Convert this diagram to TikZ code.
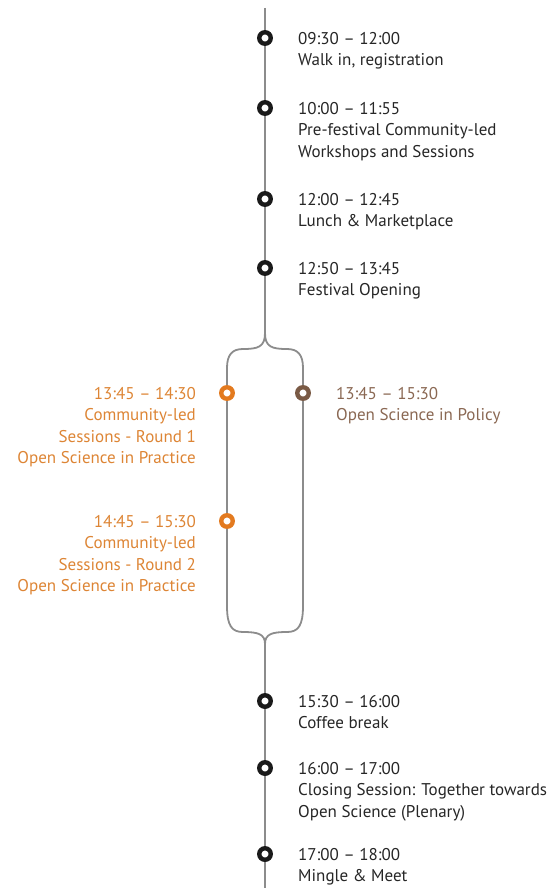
\documentclass[tikz,border=0pt]{standalone}
\usepackage{fontspec}
\setmainfont{PT Sans}
\definecolor{lineGray}{HTML}{8C8C8C}
\definecolor{dotBlack}{HTML}{1A1A1A}
\definecolor{txtBlack}{HTML}{262626}
\definecolor{sessOrange}{HTML}{E37A1F}
\definecolor{txtOrange}{HTML}{DD8535}
\definecolor{policyBrown}{HTML}{7A5A45}
\definecolor{txtBrown}{HTML}{8A6853}
\tikzset{
  link/.style={draw=lineGray, line width=1.8pt},
  dot/.style={circle, draw=dotBlack, fill=white, line width=4.4pt, minimum size=11.5pt,
    inner sep=0pt, outer sep=2.2pt},
  dotOrange/.style={dot, draw=sessOrange},
  dotBrown/.style={dot, draw=policyBrown},
  lbl/.style={anchor=north west, align=left, inner sep=0pt, text=txtBlack,
    font=\fontsize{17}{21.5}\selectfont},
  lblLeft/.style={lbl, anchor=north east, align=right, text=txtOrange},
  lblRight/.style={lbl, text=txtBrown}
}
\begin{document}
\begin{tikzpicture}[x=1pt, y=-1pt]
  \useasboundingbox (0,0) rectangle (558,888);

  % Morning
  \coordinate (top) at (265,8);
  \node[dot] (t1) at (265,38) {};
  \node[dot] (t2) at (265,108) {};
  \node[dot] (t3) at (265,199) {};
  \node[dot] (t4) at (265,268) {};
  \coordinate (fork) at (265,333);

  \node[lbl] (l1) at (298,32) {09:30 -- 12:00\\Walk in, registration};
  \node[lbl] (l2) at (298,102) {10:00 -- 11:55\\Pre-festival Community-led\\Workshops and Sessions};
  \node[lbl] (l3) at (298,193) {12:00 -- 12:45\\Lunch \& Marketplace};
  \node[lbl] (l4) at (298,262) {12:50 -- 13:45\\Festival Opening};

  % Parallel sessions
  \node[dotOrange] (o1) at (227,393) {};
  \node[dotOrange] (o2) at (227,521) {};
  \node[dotBrown] (p1) at (303,393) {};
  \coordinate (join) at (265,644);

  \node[lblLeft] (lo1) at (196,387) {13:45 -- 14:30\\Community-led\\Sessions - Round 1\\Open Science in Practice};
  \node[lblLeft] (lo2) at (196,515) {14:45 -- 15:30\\Community-led\\Sessions - Round 2\\Open Science in Practice};
  \node[lblRight] (lp1) at (336,387) {13:45 -- 15:30\\Open Science in Policy};

  % Afternoon
  \node[dot] (t5) at (265,701) {};
  \node[dot] (t6) at (265,768) {};
  \node[dot] (t7) at (265,854) {};
  \coordinate (bottom) at (265,888);

  \node[lbl] (l5) at (298,695) {15:30 -- 16:00\\Coffee break};
  \node[lbl] (l6) at (298,762) {16:00 -- 17:00\\Closing Session: Together towards\\Open Science (Plenary)};
  \node[lbl] (l7) at (298,848) {17:00 -- 18:00\\Mingle \& Meet};

  % Timeline
  \draw[link] (top) -- (t1) -- (t2) -- (t3) -- (t4) -- (fork);
  \draw[link] (fork) .. controls (265,347) and (258,349) .. (243,349)
    .. controls (232,349) and (227,355) .. (227,368) -- (o1);
  \draw[link] (fork) .. controls (265,347) and (272,349) .. (287,349)
    .. controls (298,349) and (303,355) .. (303,368) -- (p1);
  \draw[link] (o1) -- (o2);
  \draw[link] (o2) -- (227,606) .. controls (227,626) and (232,632) .. (243,632)
    .. controls (258,632) and (265,634) .. (join);
  \draw[link] (p1) -- (303,606) .. controls (303,626) and (298,632) .. (287,632)
    .. controls (272,632) and (265,634) .. (join);
  \draw[link] (join) -- (t5) -- (t6) -- (t7) -- (bottom);
\end{tikzpicture}
\end{document}
